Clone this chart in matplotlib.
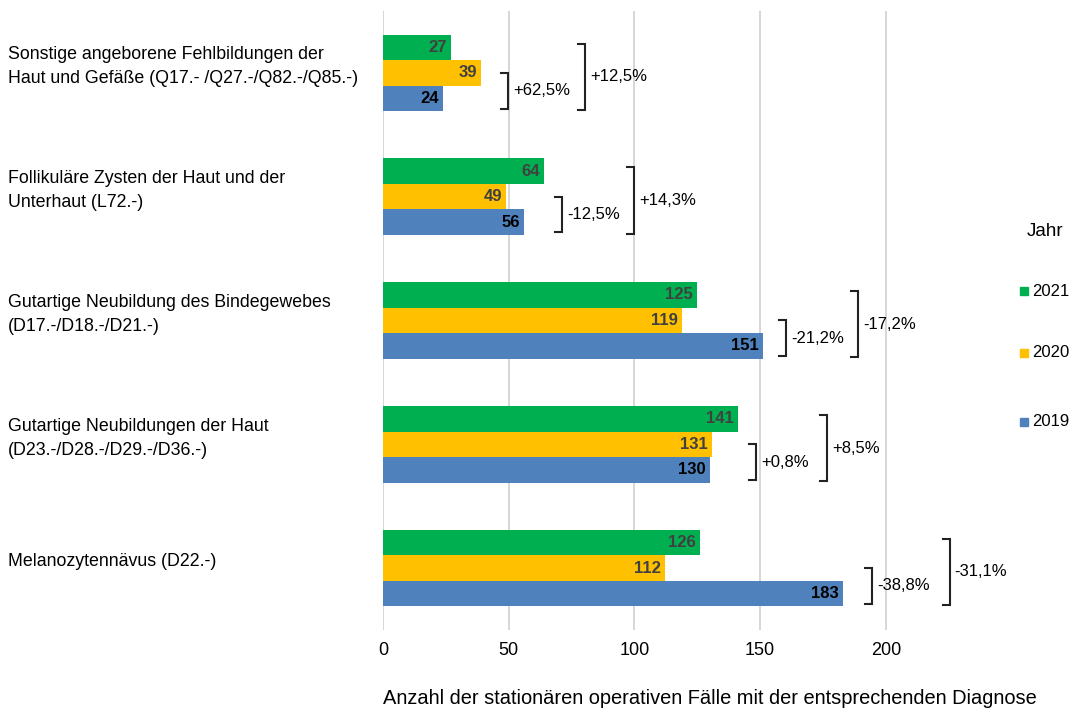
import numpy as np
import matplotlib
matplotlib.use("Agg")
import matplotlib.pyplot as plt
from matplotlib.patches import Rectangle

plt.rcParams['font.family'] = ['Liberation Sans', 'DejaVu Sans']

# Diagnosis groups (top to bottom)
categories = [
    "Sonstige angeborene Fehlbildungen der\nHaut und Gefäße (Q17.- /Q27.-/Q82.-/Q85.-)",
    "Follikuläre Zysten der Haut und der\nUnterhaut (L72.-)",
    "Gutartige Neubildung des Bindegewebes\n(D17.-/D18.-/D21.-)",
    "Gutartige Neubildungen der Haut\n(D23.-/D28.-/D29.-/D36.-)",
    "Melanozytennävus (D22.-)",
]
years = ["2021", "2020", "2019"]
cases_2021 = [27, 64, 125, 141, 126]
cases_2020 = [39, 49, 119, 131, 112]
cases_2019 = [24, 56, 151, 130, 183]

# where the change brackets sit (x in data units)
bracket_inner_x = [49.7, 71.2, 160.2, 148.3, 194.4]
bracket_outer_x = [80.3, 99.8, 188.9, 176.5, 225.4]

colors = {"2021": "#00B050", "2020": "#FFC000", "2019": "#4F81BD"}
label_colors = {"2021": "#404040", "2020": "#404040", "2019": "#000000"}


def pct(a, b):
    s = f"{(a / b - 1) * 100:+.1f}%"
    return s.replace(".", ",")


fig = plt.figure(figsize=(10.69, 7.08), dpi=100)
ax = fig.add_axes([0.3583, 0.1102, 0.635, 0.8743])

h = 0.206
y = np.arange(len(categories))
series = {"2021": cases_2021, "2020": cases_2020, "2019": cases_2019}
offsets = {"2021": -h, "2020": 0.0, "2019": h}

for yr in years:
    ax.barh(y + offsets[yr], series[yr], height=h, color=colors[yr],
            label=yr, zorder=3)
    for yy, v in zip(y + offsets[yr], series[yr]):
        ax.annotate(str(v), (v, yy), xytext=(-3, 0), textcoords="offset points",
                    ha="right", va="center", fontsize=12, fontweight="bold",
                    color=label_colors[yr], zorder=4)

# brackets with relative change vs 2019
tick = 2.8
for i in range(len(categories)):
    # inner: 2020 vs 2019
    xi = bracket_inner_x[i]
    top, bot = i + 0.0, i + 1.4 * h
    ax.plot([xi - tick, xi, xi, xi - tick], [top, top, bot, bot],
            color="#222222", lw=1.5, solid_joinstyle="miter", zorder=4)
    ax.text(xi + 2, (top + bot) / 2, pct(cases_2020[i], cases_2019[i]),
            ha="left", va="center", fontsize=12)
    # outer: 2021 vs 2019
    xo = bracket_outer_x[i]
    top, bot = i - h - 0.03, i + 1.45 * h
    ax.plot([xo - tick, xo, xo, xo - tick], [top, top, bot, bot],
            color="#222222", lw=1.5, solid_joinstyle="miter", zorder=4)
    ax.text(xo + 2, (top + bot) / 2, pct(cases_2021[i], cases_2019[i]),
            ha="left", va="center", fontsize=12)

ax.set_xlim(0, 270)
ax.set_ylim(len(categories) - 0.5, -0.5)
ax.set_xticks([0, 50, 100, 150, 200])
ax.set_yticks([])
for gx in [0, 50, 100, 150, 200]:
    ax.axvline(gx, color="#d0d0d0", lw=1.2, zorder=1)
for s in ax.spines.values():
    s.set_visible(False)
ax.tick_params(axis="x", length=0, pad=9, labelsize=13)

for i, c in enumerate(categories):
    ax.text(-375 / 2.515, i - 0.05, c, ha="left", va="center",
            fontsize=12.8, linespacing=1.55)

fig.text(0.664, 0.0141, "Anzahl der stationären operativen Fälle mit der entsprechenden Diagnose",
         ha="center", va="center", fontsize=14.4)

# legend, drawn by hand to match its uneven spacing
fig.text(1045 / 1069, 1 - 232 / 708, "Jahr", ha="center", va="center", fontsize=13.5)
legend_y = [291, 353, 422]
for yr, ly in zip(years, legend_y):
    fig.patches.append(Rectangle((1020 / 1069, 1 - (ly + 4) / 708), 8 / 1069, 8 / 708,
                                 transform=fig.transFigure, color=colors[yr]))
    fig.text(1032 / 1069, 1 - ly / 708, yr, ha="left", va="center", fontsize=12)

fig.savefig("out.png", dpi=100)
